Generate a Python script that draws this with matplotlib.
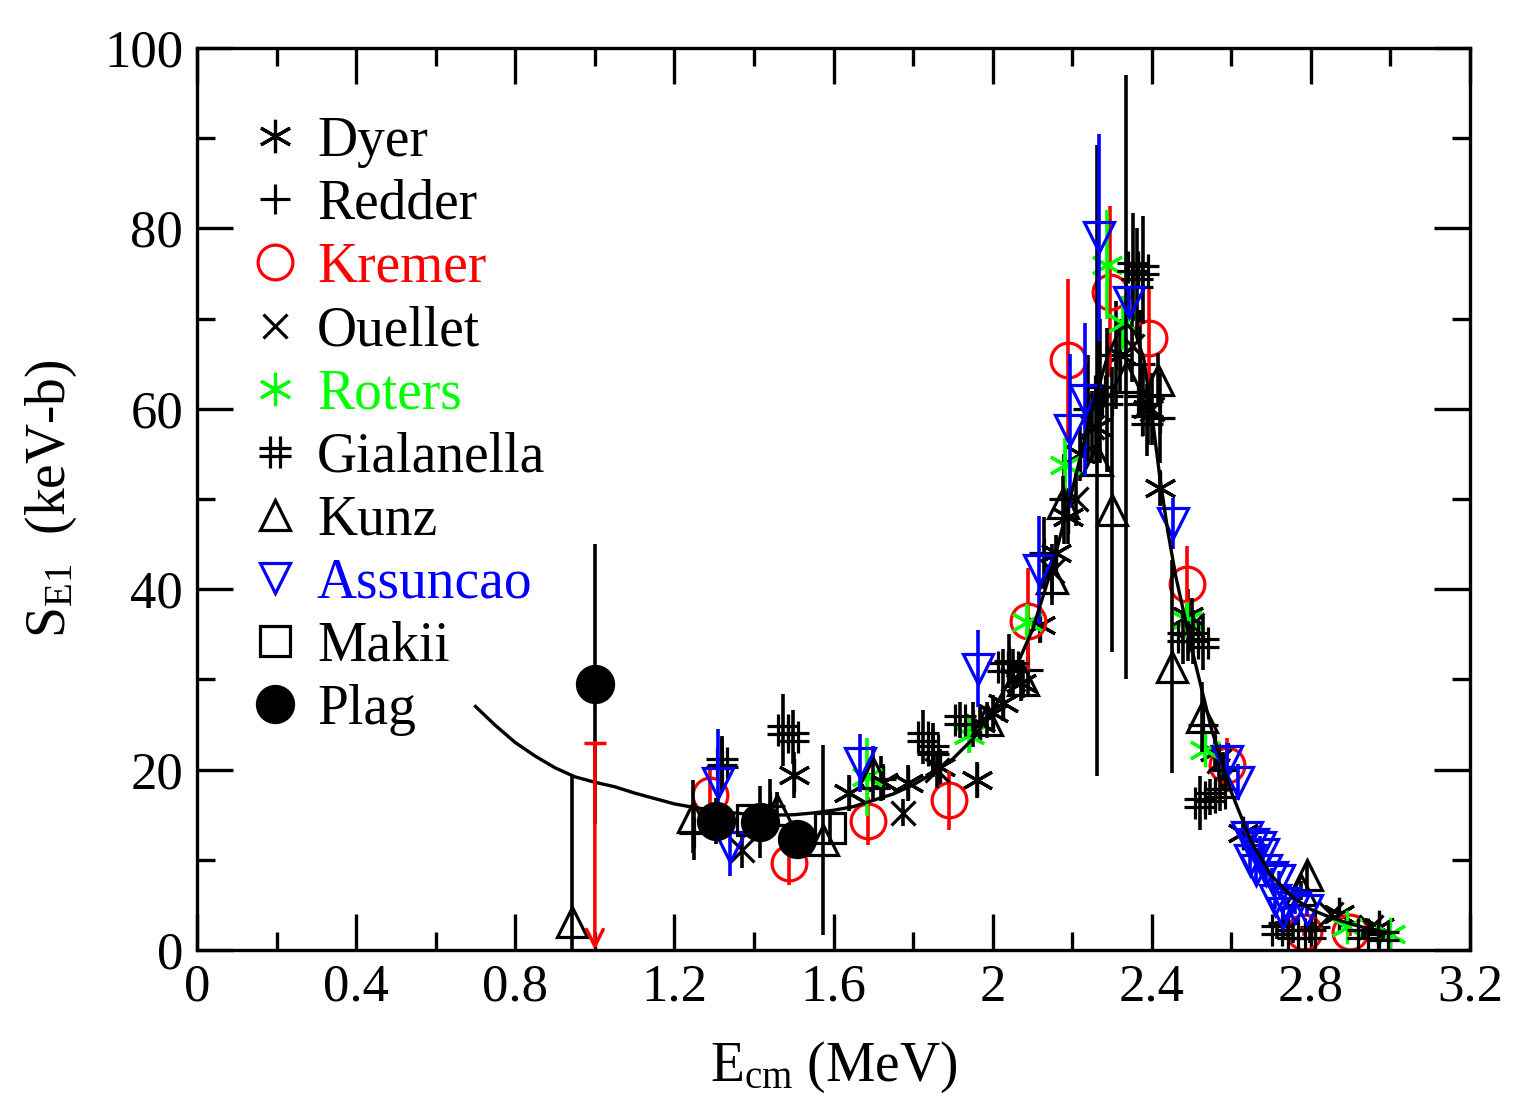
import numpy as np
import matplotlib
matplotlib.use("Agg")
import matplotlib.pyplot as plt
from matplotlib.lines import Line2D
from matplotlib.path import Path
from matplotlib.ticker import MultipleLocator

plt.rcParams['font.family'] = ['Liberation Serif', 'DejaVu Serif']
plt.rcParams['mathtext.fontset'] = 'custom'
plt.rcParams['mathtext.rm'] = 'Liberation Serif'
plt.rcParams['mathtext.it'] = 'Liberation Serif:italic'

# ---- data ----
dyer_x = [1.50, 1.64, 1.725, 1.787, 1.868, 1.96, 1.968, 2.00, 2.026, 2.07, 2.12, 2.16, 2.19, 2.22, 2.26, 2.32, 2.39, 2.42, 2.49, 2.56, 2.63, 2.87, 2.97]
dyer_y = [19.4, 17.4, 18.6, 18.5, 20.3, 18.9, 25.2, 26.3, 27.4, 29.6, 36.0, 44.0, 48.0, 55.0, 58.0, 66.0, 60.0, 51.2, 37.0, 22.0, 13.0, 4.0, 2.5]
dyer_err = [2.5, 2.0, 2.0, 2.0, 2.0, 2.0, 2.0, 2.0, 2.0, 2.0, 2.0, 2.0, 3.0, 3.0, 4.0, 4.0, 4.0, 2.0, 3.0, 2.0, 1.0, 0.5, 0.4]

redder_x = [1.25, 1.32, 1.44, 1.72, 1.85, 1.95, 2.04, 2.09, 2.13, 2.18, 2.24, 2.31, 2.37, 2.42, 2.49, 2.53, 2.58, 2.73, 2.81, 2.97]
redder_y = [13.0, 20.5, 16.0, 19.0, 22.0, 25.0, 32.0, 31.0, 44.0, 50.0, 60.0, 66.0, 65.0, 59.0, 35.0, 25.0, 20.0, 3.0, 2.5, 1.8]
redder_err = [3.0, 3.0, 3.0, 2.5, 2.5, 2.5, 3.0, 3.0, 4.0, 5.0, 6.0, 6.0, 6.0, 5.0, 3.0, 3.0, 2.0, 0.8, 0.6, 0.4]

kremer_x = [1.29, 1.488, 1.687, 1.89, 2.09, 2.19, 2.295, 2.393, 2.489, 2.589, 2.783, 2.898]
kremer_y = [17.2, 9.6, 14.3, 16.6, 36.5, 65.4, 73.0, 67.8, 40.6, 20.5, 2.0, 2.0]
kremer_err = [3.0, 2.4, 2.7, 3.3, 5.9, 9.0, 9.5, 5.7, 4.2, 3.0, 0.5, 0.5]
kremer_limit_x = 1.0
kremer_limit_y = 23.0

ouellet_x = [1.37, 1.775, 1.86, 2.05, 2.15, 2.21, 2.25, 2.35, 2.40, 2.50, 2.57, 2.85, 2.95]
ouellet_y = [11.1, 15.2, 20.0, 30.0, 42.0, 50.0, 58.0, 67.0, 60.0, 36.0, 21.0, 4.0, 2.5]
ouellet_err = [2.0, 1.5, 2.0, 2.0, 3.0, 3.0, 4.0, 4.0, 4.0, 3.0, 2.0, 0.5, 0.4]

roters_x = [1.684, 1.94, 2.087, 2.182, 2.288, 2.328, 2.489, 2.534, 2.891, 2.999]
roters_y = [19.2, 23.8, 36.4, 53.8, 76.0, 69.5, 36.6, 22.2, 2.5, 1.8]
roters_err = [4.3, 2.0, 2.0, 3.0, 6.0, 3.0, 2.0, 1.0, 0.3, 0.3]

gial_x = [1.32, 1.473, 1.498, 1.825, 1.85, 1.918, 2.026, 2.05, 2.27, 2.287, 2.353, 2.363, 2.378, 2.378, 2.388, 2.479, 2.504, 2.529, 2.521, 2.546, 2.571, 2.715, 2.755, 2.798, 2.93, 2.98]
gial_y = [20.7, 24.4, 23.6, 23.6, 22.2, 25.5, 31.4, 31.4, 62.0, 61.0, 75.7, 74.0, 75.4, 61.0, 58.8, 34.7, 34.7, 34.0, 16.3, 17.0, 17.4, 2.2, 1.8, 1.8, 1.8, 1.5]
gial_err = [3.0, 4.0, 3.0, 3.0, 3.0, 2.0, 2.0, 2.0, 8.0, 8.0, 6.0, 6.0, 6.0, 4.0, 4.0, 3.0, 3.0, 3.0, 3.0, 2.0, 2.0, 1.0, 1.0, 1.0, 0.5, 0.5]

kunz_x = [0.943, 1.247, 1.458, 1.574, 1.70, 1.985, 2.077, 2.15, 2.177, 2.262, 2.30, 2.335, 2.416, 2.451, 2.526, 2.775, 2.79]
kunz_y = [3.1, 14.8, 15.5, 12.2, 19.6, 25.5, 29.9, 41.2, 49.6, 54.3, 48.8, 63.5, 63.2, 31.4, 25.8, 6.6, 8.3]
kunz_err = [16.2, 4.0, 2.0, 10.5, 3.0, 2.0, 2.0, 3.0, 3.0, 35.0, 15.8, 33.5, 3.0, 11.8, 3.9, 1.0, 1.5]

assun_x = [1.31, 1.34, 1.667, 1.963, 2.117, 2.195, 2.232, 2.267, 2.343, 2.454, 2.589, 2.617, 2.64, 2.655, 2.672, 2.647, 2.68, 2.663, 2.688, 2.703, 2.72, 2.71, 2.735, 2.76, 2.73, 2.79]
assun_y = [18.5, 11.4, 20.7, 31.2, 42.1, 57.6, 61.0, 79.0, 71.8, 47.3, 21.0, 18.6, 12.5, 11.8, 11.4, 10.0, 10.7, 8.9, 8.9, 8.1, 7.8, 5.5, 5.2, 4.8, 4.1, 4.4]
assun_err = [6.0, 3.2, 3.2, 4.3, 6.0, 8.5, 8.5, 11.5, 1.6, 2.8, 2.0, 2.0, 1.5, 1.2, 1.2, 1.5, 1.2, 1.5, 1.0, 1.0, 1.0, 1.0, 0.8, 0.8, 0.8, 0.6]

makii_x = [1.395, 1.59]
makii_y = [14.4, 13.5]
makii_err = [1.5, 1.5]

plag_x = [1.0, 1.305, 1.415, 1.508]
plag_y = [29.5, 14.3, 14.2, 12.3]
plag_err = [15.5, 2.5, 4.0, 2.0]

# fitted curve
fit_x = [0.70, 0.75, 0.80, 0.85, 0.90, 0.95, 1.00, 1.05, 1.10, 1.15, 1.20, 1.25, 1.30, 1.35, 1.40, 1.45, 1.50,
         1.55, 1.60, 1.65, 1.70, 1.75, 1.80, 1.85, 1.90, 1.95, 2.00, 2.05, 2.10, 2.15, 2.20, 2.25, 2.29,
         2.32, 2.34, 2.36, 2.38, 2.40, 2.42, 2.44, 2.46, 2.50, 2.55, 2.60, 2.65, 2.70, 2.75, 2.80, 2.85,
         2.90, 2.95, 3.00]
fit_y = [27.0, 24.9, 23.0, 21.5, 20.2, 19.2, 18.6, 18.1, 17.4, 16.8, 16.2, 15.8, 15.5, 15.2, 15.0, 14.95, 15.0,
         15.2, 15.5, 15.9, 16.6, 17.3, 18.3, 19.6, 21.2, 23.4, 26.5, 30.5, 35.5, 42.5, 51.0, 60.0, 66.0,
         68.8, 69.3, 68.3, 65.5, 59.5, 52.5, 46.5, 41.5, 33.5, 24.5, 17.5, 12.0, 8.3, 6.0, 4.5, 3.6,
         2.9, 2.3, 1.9]

# ---- marker for Gialanella (#) ----
hash_marker = Path([(-0.3, -1), (-0.3, 1), (0.3, -1), (0.3, 1),
                    (-1, -0.25), (1, -0.25), (-1, 0.25), (1, 0.25)],
                   [Path.MOVETO, Path.LINETO] * 4)
asterisk = (6, 2, 0)

series = [
    ('Dyer', dyer_x, dyer_y, dyer_err, asterisk, 'black', 24, True),
    ('Redder', redder_x, redder_y, redder_err, '+', 'black', 22, True),
    ('Kremer', kremer_x, kremer_y, kremer_err, 'o', 'red', 25, False),
    ('Ouellet', ouellet_x, ouellet_y, ouellet_err, 'x', 'black', 17, True),
    ('Roters', roters_x, roters_y, roters_err, asterisk, '#00ff00', 24, True),
    ('Gialanella', gial_x, gial_y, gial_err, hash_marker, 'black', 23, True),
    ('Kunz', kunz_x, kunz_y, kunz_err, '^', 'black', 22, False),
    ('Assuncao', assun_x, assun_y, assun_err, 'v', 'blue', 22, False),
    ('Makii', makii_x, makii_y, makii_err, 's', 'black', 22, False),
    ('Plag', plag_x, plag_y, plag_err, 'o', 'black', 26, 'filled'),
]

fig = plt.figure(figsize=(15.3, 11.07), dpi=100)
ax = fig.add_axes([0.1288, 0.1418, 0.8320, 0.8148])

handles = []
for name, x, y, e, mk, col, ms, style in series:
    mfc = col if style == 'filled' else 'none'
    ax.errorbar(x, y, yerr=e, fmt='none', ecolor=col, elinewidth=2.6, capsize=0)
    ax.plot(x, y, ls='none', marker=mk, ms=ms, mec=col, mfc=mfc, mew=2.3)
    handles.append(Line2D([], [], ls='none', marker=mk, ms=ms, mec=col, mfc=mfc, mew=2.3))

# Kremer upper limit at 1 MeV
ax.plot([kremer_limit_x], [kremer_limit_y], ls='none', marker='_', ms=16, mew=2.5, color='red')
ax.annotate('', xy=(kremer_limit_x, 0), xytext=(kremer_limit_x, kremer_limit_y),
            arrowprops=dict(arrowstyle='->', color='red', lw=2.5, mutation_scale=30,
                            shrinkA=0, shrinkB=0), annotation_clip=False)

ax.plot(fit_x, fit_y, color='black', lw=2.4)

ax.set_xlim(0, 3.2)
ax.set_ylim(0, 100)
ax.xaxis.set_major_locator(MultipleLocator(0.4))
ax.xaxis.set_minor_locator(MultipleLocator(0.2))
ax.yaxis.set_major_locator(MultipleLocator(20))
ax.yaxis.set_minor_locator(MultipleLocator(10))
ax.set_xticks(np.arange(0, 3.21, 0.4))
ax.set_xticklabels(['0', '0.4', '0.8', '1.2', '1.6', '2', '2.4', '2.8', '3.2'])
ax.tick_params(which='both', direction='in', top=True, right=True, width=2.4, labelsize=38)
ax.tick_params(which='major', length=26, pad=10)
ax.tick_params(which='minor', length=13)
for s in ax.spines.values():
    s.set_linewidth(2.4)

ax.set_xlabel(r'E$_{\rm cm}$ (MeV)', fontsize=40, labelpad=20)
ax.set_ylabel(r'S$_{\rm E1}$  (keV-b)', fontsize=40, labelpad=18)

ax.legend(handles, [s[0] for s in series], loc='upper left', bbox_to_anchor=(0.044, 0.925),
          frameon=False, fontsize=40, labelcolor=[s[5] for s in series],
          handlelength=0.8, handletextpad=0.35, labelspacing=0.2,
          borderpad=0, borderaxespad=0)

fig.savefig('out.png', dpi=100)
